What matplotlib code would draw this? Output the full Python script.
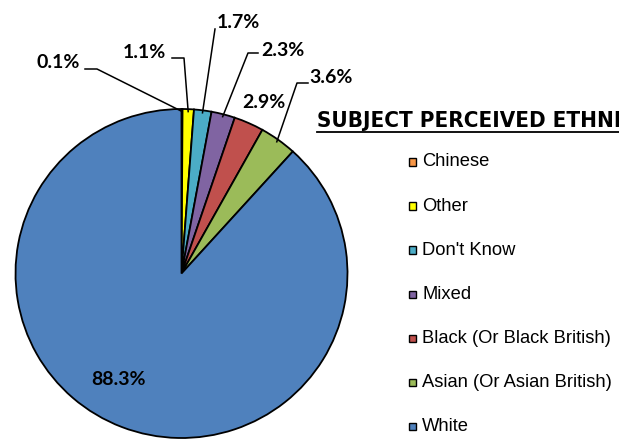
import matplotlib
matplotlib.use('Agg')
import matplotlib.pyplot as plt
from matplotlib.patches import Rectangle
from matplotlib.lines import Line2D
from matplotlib import font_manager
import numpy as np

categories = ['Chinese', 'Other', "Don't Know", 'Mixed',
              'Black (Or Black British)', 'Asian (Or Asian British)', 'White']
values = [0.1, 1.1, 1.7, 2.3, 2.9, 3.6, 88.3]
value_labels = ['0.1%', '1.1%', '1.7%', '2.3%', '2.9%', '3.6%', '88.3%']
colors = ['#F79646', '#FFFF00', '#4BACC6', '#8064A2', '#C0504D', '#9BBB59', '#4F81BD']
title = 'SUBJECT PERCEIVED ETHNICITY'

avail = {f.name for f in font_manager.fontManager.ttflist}
label_font = 'Lato' if 'Lato' in avail else 'DejaVu Sans'
legend_font = 'Liberation Sans' if 'Liberation Sans' in avail else 'DejaVu Sans'
if 'Liberation Sans Narrow' in avail:
    title_font, title_stretch = 'Liberation Sans Narrow', 'normal'
else:
    title_font, title_stretch = 'DejaVu Sans', 'condensed'

W, H = 619, 440
fig = plt.figure(figsize=(W / 100, H / 100), dpi=100)
cx, cy, Rx, Ry = 181.5, 273.5, 166, 164.5
ax = fig.add_axes([(cx - Rx) / W, (H - cy - Ry) / H, 2 * Rx / W, 2 * Ry / H])
wedges, _ = ax.pie(values, colors=colors, startangle=90, counterclock=False,
                   radius=1, wedgeprops=dict(edgecolor='black', linewidth=1.3))
for w in wedges:
    w.set_clip_on(False)
ax.set_aspect('auto')
ax.set_xlim(-1, 1)
ax.set_ylim(-1, 1)
ax.axis('off')


def px2d(px, py):
    return ((px - cx) / Rx, (cy - py) / Ry)


# layout (pixel positions) for labels and leader elbows
label_pos = [(58, 62), (144, 52), (238, 22), (283, 50), (264, 102), (331, 77), (119, 379)]
leader_pts = [[(85, 69), (97, 69)], [(172, 58), (184, 58)], [(215, 29)],
              [(258, 53), (248, 53)], None, [(308, 83), (297, 83)], None]

for w, lab, pos, pts in zip(wedges, value_labels, label_pos, leader_pts):
    tx, ty = px2d(*pos)
    ax.text(tx, ty, lab, ha='center', va='center', fontsize=14,
            fontweight='bold', family=label_font, color='black', clip_on=False)
    if pts:
        mid = np.deg2rad((w.theta1 + w.theta2) / 2)
        ex, ey = 0.985 * np.cos(mid), 0.985 * np.sin(mid)
        xs = [px2d(*p)[0] for p in pts] + [ex]
        ys = [px2d(*p)[1] for p in pts] + [ey]
        ax.add_line(Line2D(xs, ys, color='black', lw=1.1, clip_on=False))

# title with underline (runs past the right edge, as in the original)
fig.text(317 / W, 1 - 127 / H, title, ha='left', va='baseline', fontsize=16,
         fontweight='bold', family=title_font, fontstretch=title_stretch, color='black')
fig.add_artist(Line2D([317 / W, 1.0], [1 - 132 / H, 1 - 132 / H], color='black', lw=1.3))

# legend
for i, (cat, col) in enumerate(zip(categories, colors)):
    yc = 162 + 44 * i
    fig.add_artist(Rectangle((408.5 / W, 1 - (yc + 4) / H), 7.5 / W, 7.5 / H,
                             facecolor=col, edgecolor='black', lw=1.0,
                             transform=fig.transFigure))
    fig.text(422 / W, 1 - yc / H, cat, ha='left', va='center', fontsize=13.2,
             family=legend_font, color='black')

fig.savefig('out.png', dpi=100)
